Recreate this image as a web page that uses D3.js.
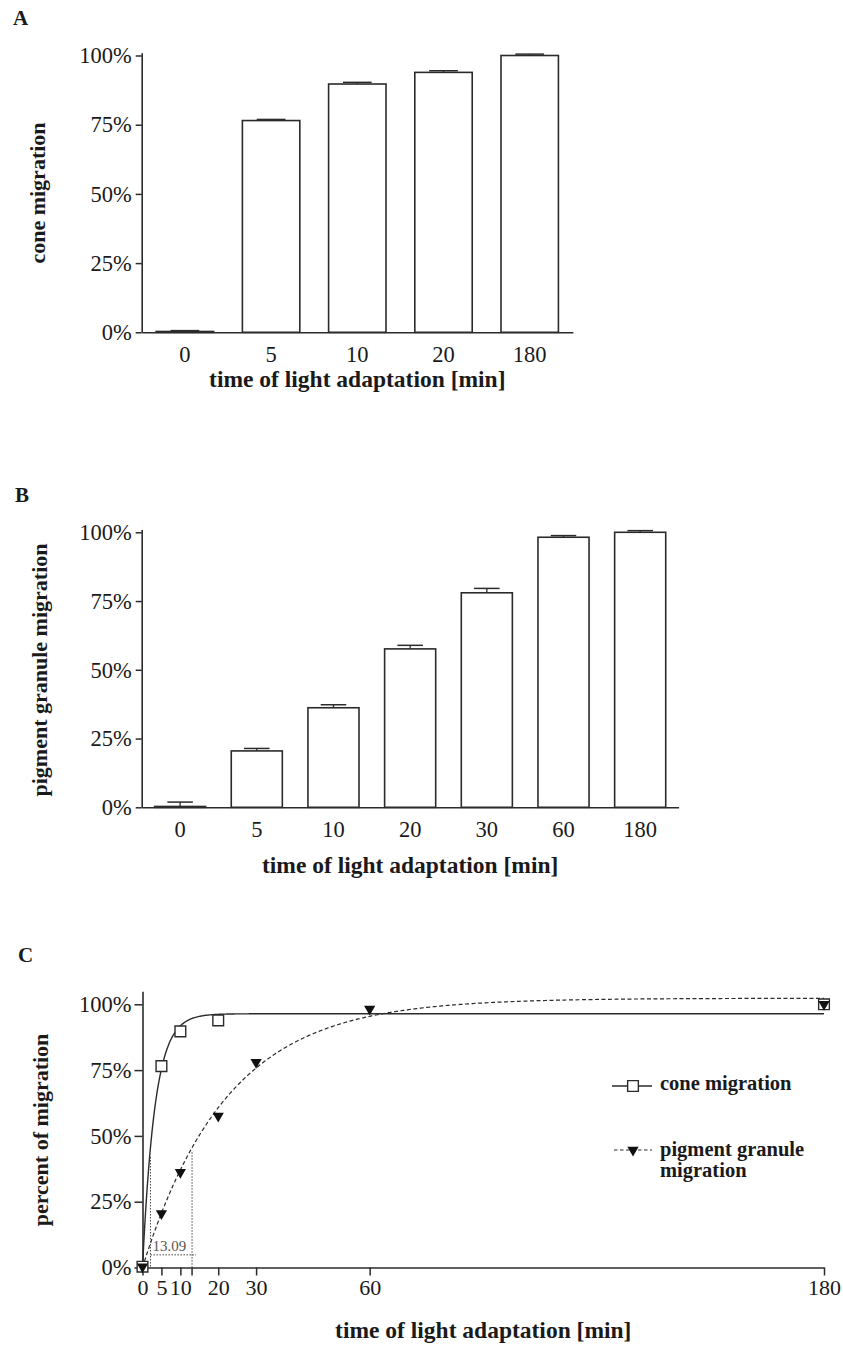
<!DOCTYPE html>
<html>
<head>
<meta charset="utf-8">
<script src="https://cdn.jsdelivr.net/npm/d3@7"></script>
<style>
body { margin: 0; background: #fff; }
svg text { font-family: "Liberation Serif", "Times New Roman", serif; fill: #1a1a1a; }
</style>
</head>
<body>
<svg id="chart" width="843" height="1348"></svg>
<script>
const coneTimes = ["0", "5", "10", "20", "180"];
const coneMean = [0.3, 76.5, 89.7, 93.9, 100];
const coneErr = [0.3, 0.4, 0.6, 0.6, 0.5];

const pigmentTimes = ["0", "5", "10", "20", "30", "60", "180"];
const pigmentMean = [0.3, 20.5, 36.2, 57.6, 78.0, 98.2, 100];
const pigmentErr = [1.6, 0.9, 1.1, 1.3, 1.6, 0.6, 0.6];

const percentTicks = [0, 25, 50, 75, 100];
const timeTicks = [0, 5, 10, 20, 30, 60, 180];

// one-phase association fits shown in panel C
const coneFit = { plateau: 96.4, k: 0.305 };
const pigmentFit = { plateau: 102.3, k: 0.045 };
const halfTimes = [2.1, 13.09];
const guideTops = [42, 43.8];
const halfTimeLabel = "13.09";

const xTitle = "time of light adaptation [min]";

const svg = d3.select("#chart");
svg.append("rect").attr("width", 843).attr("height", 1348).attr("fill", "#fff");

const INK = "#2b2b2b";

function styleAxis(sel, fontSize) {
    sel.select(".domain").attr("stroke", INK).attr("stroke-width", 1.6);
    sel.selectAll(".tick line").attr("stroke", INK).attr("stroke-width", 1.5);
    sel.selectAll(".tick text")
        .attr("font-size", fontSize)
        .attr("fill", "#1a1a1a")
        .style("font-family", '"Liberation Serif", "Times New Roman", serif');
}

function panelLetter(txt, x, y) {
    svg.append("text").attr("x", x).attr("y", y)
        .attr("font-size", 21).attr("font-weight", "bold").text(txt);
}

function yTitle(txt, x, y) {
    svg.append("text")
        .attr("transform", "translate(" + x + "," + y + ") rotate(-90)")
        .attr("text-anchor", "middle")
        .attr("font-size", 22).attr("font-weight", "bold").text(txt);
}

function barPanel(p) {
    const g = svg.append("g");
    const x = d3.scaleBand().domain(p.cats).range([p.left, p.right])
        .paddingInner(0.334).paddingOuter(0.168).align(0.5);
    const y = d3.scaleLinear().domain([0, 100]).range([p.bottom, p.top]);
    const yAx = y.copy().domain([0, 101]).range([p.bottom, y(101)]);

    g.append("g").attr("transform", "translate(" + p.left + ",0)")
        .call(d3.axisLeft(yAx).tickValues(percentTicks).tickFormat(d => d + "%")
            .tickSize(6).tickPadding(4).tickSizeOuter(0))
        .call(s => styleAxis(s, 22.5));

    const bw = x.bandwidth();
    const rows = p.cats.map((c, i) => ({ c: c, v: p.vals[i], e: p.errs[i] }));

    g.selectAll("line.err").data(rows).join("line")
        .attr("x1", d => x(d.c) + bw / 2).attr("x2", d => x(d.c) + bw / 2)
        .attr("y1", d => y(d.v)).attr("y2", d => y(d.v + d.e))
        .attr("stroke", INK).attr("stroke-width", 1.3);
    g.selectAll("line.cap").data(rows).join("line")
        .attr("x1", d => x(d.c) + bw * 0.25).attr("x2", d => x(d.c) + bw * 0.75)
        .attr("y1", d => y(d.v + d.e)).attr("y2", d => y(d.v + d.e))
        .attr("stroke", INK).attr("stroke-width", 1.5);

    g.selectAll("rect.bar").data(rows).join("rect")
        .attr("x", d => x(d.c)).attr("width", bw)
        .attr("y", d => y(d.v)).attr("height", d => p.bottom - y(d.v))
        .attr("fill", "#fff").attr("stroke", INK).attr("stroke-width", 1.6);

    g.append("g").attr("transform", "translate(0," + p.bottom + ")")
        .call(d3.axisBottom(x).tickSize(0).tickPadding(14).tickSizeOuter(0))
        .call(s => styleAxis(s, 22.5));

    g.append("text").attr("x", (p.left + p.right) / 2).attr("y", p.titleY)
        .attr("text-anchor", "middle").attr("font-size", 23.5).attr("font-weight", "bold")
        .text(xTitle);
}

// ---- A
panelLetter("A", 13, 25);
yTitle("cone migration", 45, 193);
barPanel({ cats: coneTimes, vals: coneMean, errs: coneErr,
    left: 141.7, right: 572.9, top: 55.5, bottom: 332.3, titleY: 386.5 });

// ---- B
panelLetter("B", 15, 502);
yTitle("pigment granule migration", 47, 670);
barPanel({ cats: pigmentTimes, vals: pigmentMean, errs: pigmentErr,
    left: 141.7, right: 678.6, top: 532.3, bottom: 807.3, titleY: 873 });

// ---- C
panelLetter("C", 18, 962);
yTitle("percent of migration", 48, 1130);

const cLeft = 142.5, cRight = 824, cTop = 1004.3, cBottom = 1267.5;
const xc = d3.scaleLinear().domain([0, 180]).range([cLeft, cRight]);
const yc = d3.scaleLinear().domain([0, 100]).range([cBottom, cTop]);
const ycAx = yc.copy().domain([0, 105]).range([cBottom, yc(105)]);
const gc = svg.append("g");

gc.append("g").attr("transform", "translate(" + cLeft + ",0)")
    .call(d3.axisLeft(ycAx).tickValues(percentTicks).tickFormat(d => d + "%")
        .tickSize(8).tickPadding(3).tickSizeOuter(0))
    .call(s => styleAxis(s, 22.5));
gc.append("g").attr("transform", "translate(0," + cBottom + ")")
    .call(d3.axisBottom(xc).tickValues(timeTicks).tickFormat(d3.format("d"))
        .tickSize(8).tickPadding(4).tickSizeOuter(0))
    .call(s => styleAxis(s, 22));

// unlabelled tick at the pigment half-time
gc.append("line")
    .attr("x1", xc(halfTimes[1])).attr("x2", xc(halfTimes[1]))
    .attr("y1", cBottom).attr("y2", cBottom + 8)
    .attr("stroke", INK).attr("stroke-width", 1.5);

function fitLine(fit) {
    const pts = d3.range(0, 180.25, 0.25).map(t => [t, fit.plateau * (1 - Math.exp(-fit.k * t))]);
    return d3.line().x(d => xc(d[0])).y(d => yc(d[1]))(pts);
}

gc.append("path").attr("d", fitLine(coneFit))
    .attr("fill", "none").attr("stroke", INK).attr("stroke-width", 1.4);
gc.append("path").attr("d", fitLine(pigmentFit))
    .attr("fill", "none").attr("stroke", INK).attr("stroke-width", 1.2)
    .attr("stroke-dasharray", "4,2.5");

// half-time guides
halfTimes.forEach((t, i) => {
    gc.append("line")
        .attr("x1", xc(t)).attr("x2", xc(t))
        .attr("y1", yc(guideTops[i])).attr("y2", cBottom)
        .attr("stroke", "#444").attr("stroke-width", 1).attr("stroke-dasharray", "1.5,1.5");
});
gc.append("line")
    .attr("x1", xc(halfTimes[0])).attr("x2", xc(halfTimes[1]) + 4)
    .attr("y1", yc(4.8)).attr("y2", yc(4.8))
    .attr("stroke", "#444").attr("stroke-width", 1).attr("stroke-dasharray", "1.5,1.5");
gc.append("text").attr("x", xc(halfTimes[0]) + 2).attr("y", yc(6.2))
    .attr("font-size", 15).style("fill", "#555").text(halfTimeLabel);

const square = d3.symbol().type(d3.symbolSquare).size(115);
const tri = d3.symbol().type(d3.symbolTriangle).size(55);

const conePts = coneTimes.map((t, i) => ({ t: +t, v: coneMean[i] }));
const pigPts = pigmentTimes.map((t, i) => ({ t: +t, v: pigmentMean[i] }));

gc.selectAll("path.sq").data(conePts).join("path")
    .attr("d", square)
    .attr("transform", d => "translate(" + xc(d.t) + "," + yc(d.v) + ")")
    .attr("fill", "#fff").attr("stroke", INK).attr("stroke-width", 1.4);
gc.selectAll("path.tri").data(pigPts).join("path")
    .attr("d", tri)
    .attr("transform", d => "translate(" + xc(d.t) + "," + yc(d.v) + ") rotate(180)")
    .attr("fill", "#111");

gc.append("text").attr("x", (cLeft + cRight) / 2).attr("y", 1338)
    .attr("text-anchor", "middle").attr("font-size", 23.5).attr("font-weight", "bold")
    .text(xTitle);

// legend
const lg = svg.append("g");
lg.append("line").attr("x1", 612).attr("x2", 652).attr("y1", 1086).attr("y2", 1086)
    .attr("stroke", INK).attr("stroke-width", 1.4);
lg.append("path").attr("d", square).attr("transform", "translate(633,1086)")
    .attr("fill", "#fff").attr("stroke", INK).attr("stroke-width", 1.4);
lg.append("text").attr("x", 660).attr("y", 1090)
    .attr("font-size", 20.5).attr("font-weight", "bold").text("cone migration");

lg.append("line").attr("x1", 614).attr("x2", 652).attr("y1", 1150).attr("y2", 1150)
    .attr("stroke", INK).attr("stroke-width", 1.2).attr("stroke-dasharray", "3.5,2.5");
lg.append("path").attr("d", tri).attr("transform", "translate(633,1150) rotate(180)")
    .attr("fill", "#111");
lg.append("text").attr("x", 660).attr("y", 1156)
    .attr("font-size", 20.5).attr("font-weight", "bold").text("pigment granule");
lg.append("text").attr("x", 660).attr("y", 1177)
    .attr("font-size", 20.5).attr("font-weight", "bold").text("migration");
</script>
</body>
</html>
